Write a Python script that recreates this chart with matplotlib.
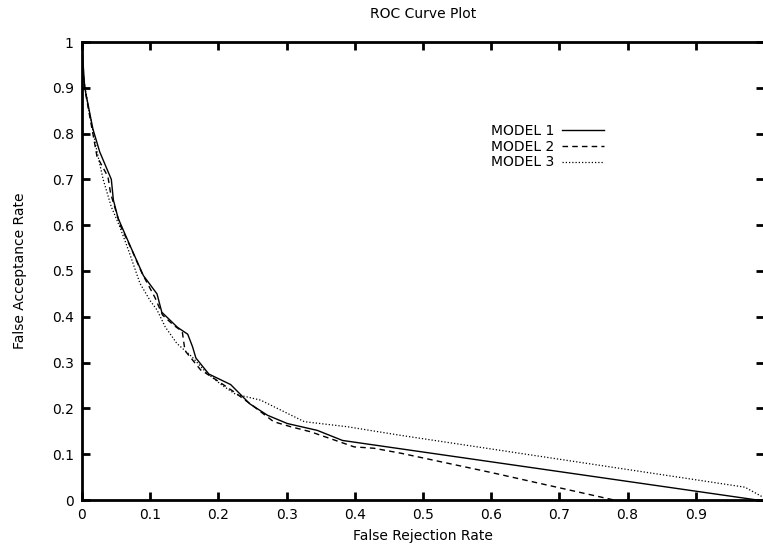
import matplotlib.pyplot as plt

# ROC noktaları: x = yanlış ret oranı, y = yanlış kabul oranı
frr_model1 = [0.0, 0.004, 0.016, 0.026, 0.043, 0.046, 0.053, 0.070, 0.090, 0.110,
              0.117, 0.140, 0.155, 0.162, 0.167, 0.186, 0.218, 0.246, 0.272, 0.301,
              0.345, 0.382, 0.99]
far_model1 = [0.99, 0.90, 0.81, 0.76, 0.70, 0.655, 0.615, 0.557, 0.49, 0.45,
              0.41, 0.377, 0.362, 0.335, 0.31, 0.275, 0.252, 0.21, 0.185, 0.167,
              0.152, 0.13, 0.0]

frr_model2 = [0.0, 0.005, 0.022, 0.038, 0.042, 0.056, 0.073, 0.088, 0.107, 0.118,
              0.134, 0.147, 0.151, 0.174, 0.193, 0.222, 0.252, 0.281, 0.306, 0.335,
              0.370, 0.399, 0.428, 0.468, 0.60, 0.72, 0.78]
far_model2 = [0.95, 0.89, 0.75, 0.706, 0.669, 0.60, 0.546, 0.495, 0.442, 0.404,
              0.382, 0.368, 0.326, 0.284, 0.266, 0.237, 0.204, 0.171, 0.160, 0.149,
              0.131, 0.116, 0.113, 0.102, 0.06, 0.02, 0.0]

frr_model3 = [0.0, 0.001, 0.011, 0.021, 0.031, 0.043, 0.055, 0.068, 0.085,
              0.100, 0.110, 0.122, 0.139, 0.161, 0.183, 0.205, 0.225, 0.262, 0.296,
              0.326, 0.389, 0.468, 0.972, 1.0]
far_model3 = [0.95, 0.931, 0.844, 0.768, 0.700, 0.640, 0.598, 0.546, 0.473,
              0.435, 0.415, 0.378, 0.342, 0.313, 0.277, 0.251, 0.231, 0.218, 0.193,
              0.171, 0.160, 0.141, 0.028, 0.005]

x_ticks = [0, 0.1, 0.2, 0.3, 0.4, 0.5, 0.6, 0.7, 0.8, 0.9]
y_ticks = [0, 0.1, 0.2, 0.3, 0.4, 0.5, 0.6, 0.7, 0.8, 0.9, 1]

plt.rcParams['font.family'] = ['DejaVu Sans']
plt.rcParams['font.size'] = 10

W, H = 763, 548
fig = plt.figure(figsize=(W / 100, H / 100), dpi=100)
ax = fig.add_axes([82 / W, (H - 500) / H, 682 / W, 458 / H])

ax.plot(frr_model1, far_model1, color='black', lw=1.0, linestyle='-', label='MODEL 1')
ax.plot(frr_model2, far_model2, color='black', lw=1.0, linestyle=(0, (4, 3)), label='MODEL 2')
ax.plot(frr_model3, far_model3, color='black', lw=0.9, linestyle=(0, (1, 1.6)), label='MODEL 3')

ax.set_xlim(0, 1)
ax.set_ylim(0, 1)
ax.set_xticks(x_ticks)
ax.set_xticklabels([f'{v:g}' for v in x_ticks])
ax.set_yticks(y_ticks)
ax.set_yticklabels([f'{v:g}' for v in y_ticks])
ax.tick_params(direction='in', length=6, width=2, top=True, right=True, pad=6)
for s in ax.spines.values():
    s.set_linewidth(2)

ax.set_title('ROC Curve Plot', fontsize=10, pad=17)
ax.set_xlabel('False Rejection Rate', labelpad=5)
ax.set_ylabel('False Acceptance Rate', labelpad=18)

ax.legend(loc='upper left', bbox_to_anchor=(0.589, 0.836), frameon=False,
          markerfirst=False, handlelength=3.0, handletextpad=0.6,
          labelspacing=0.12, borderpad=0)

fig.savefig('out.png', dpi=100)
